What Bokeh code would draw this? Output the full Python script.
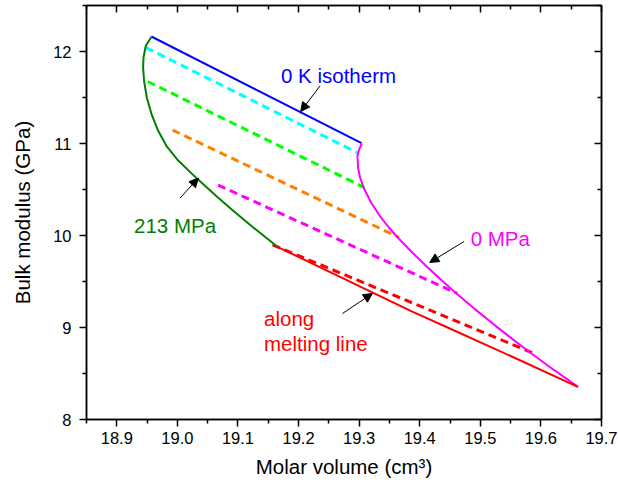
from bokeh.plotting import figure
from bokeh.models import (Range1d, LinearAxis, FixedTicker, Label, Arrow, NormalHead,
                          PrintfTickFormatter, CustomJSTickFormatter)
from bokeh.embed import file_html
from bokeh.resources import INLINE

# ---------------- data ----------------
# 0 K isotherm (solid blue)
iso0K_v = [18.957, 19.304]
iso0K_b = [12.163, 11.004]

# 213 MPa isobar (solid dark green)
p213_v = [18.9573, 18.9479, 18.9441, 18.9434, 18.9450, 18.9495, 18.9573, 18.9683,
          18.9818, 19.0017, 19.0333, 19.0637, 19.0921, 19.1218, 19.1492, 19.1650]
p213_b = [12.160, 12.062, 11.935, 11.826, 11.682, 11.500, 11.320, 11.138,
          10.975, 10.812, 10.613, 10.432, 10.268, 10.105, 9.961, 9.877]

# 0 MPa isobar (solid magenta)
p0_v = [19.3043, 19.2998, 19.2972, 19.2982, 19.3015, 19.3073, 19.3196, 19.3340, 19.3490,
        19.3635, 19.3876, 19.4132, 19.4370, 19.4586, 19.4909, 19.5251, 19.5568,
        19.5822, 19.6158, 19.6614]
p0_b = [11.000, 10.932, 10.866, 10.739, 10.630, 10.522, 10.359, 10.214, 10.087,
        9.978, 9.815, 9.652, 9.508, 9.380, 9.200, 9.018, 8.855,
        8.728, 8.565, 8.355]

# along melting line (solid red)
melt_v = [19.165, 19.253, 19.385, 19.446, 19.550, 19.661]
melt_b = [9.877, 9.600, 9.180, 9.000, 8.690, 8.355]

# isotherms (dashed)
cyan_v = [18.948, 19.297]
cyan_b = [12.043, 10.900]
green_v = [18.951, 19.309]
green_b = [11.674, 10.520]
orange_v = [18.992, 19.366]
orange_b = [11.146, 9.978]
magenta_v = [19.067, 19.462]
magenta_b = [10.548, 9.370]
reddash_v = [19.157, 19.591]
reddash_b = [9.899, 8.711]

# axes ticks
x_ticks = [18.9, 19.0, 19.1, 19.2, 19.3, 19.4, 19.5, 19.6, 19.7]
x_minor = [18.85, 18.95, 19.05, 19.15, 19.25, 19.35, 19.45, 19.55, 19.65]
y_ticks = [8, 9, 10, 11, 12]
y_minor = [8.5, 9.5, 10.5, 11.5, 12.5]

FONT = "Liberation Sans"

p = figure(width=618, height=489, output_backend="svg", toolbar_location=None,
           x_range=Range1d(18.85, 19.7), y_range=Range1d(8, 12.5),
           min_border_left=86, min_border_right=17, min_border_top=5, min_border_bottom=70)
p.grid.visible = False
p.outline_line_color = "black"
p.outline_line_width = 1.5
p.background_fill_color = "white"
p.border_fill_color = "white"

def style_axis(ax, outside=True):
    ax.axis_line_color = "black"
    ax.axis_line_width = 1.5
    ax.major_tick_line_width = 1.5
    ax.minor_tick_line_width = 1.5
    if outside:
        ax.major_tick_out = 7
        ax.major_tick_in = 0
        ax.minor_tick_out = 4
        ax.minor_tick_in = 0
    else:
        ax.major_tick_out = 0
        ax.major_tick_in = 7
        ax.minor_tick_out = 0
        ax.minor_tick_in = 4
    ax.major_label_text_font = FONT
    ax.major_label_text_font_size = "16.5px"
    ax.major_label_text_color = "black"
    ax.axis_label_text_font = FONT
    ax.axis_label_text_font_size = "20.5px"
    ax.axis_label_text_font_style = "normal"
    ax.axis_label_text_color = "black"

p.xaxis.ticker = FixedTicker(ticks=x_ticks, minor_ticks=x_minor)
p.yaxis.ticker = FixedTicker(ticks=y_ticks, minor_ticks=y_minor)
p.xaxis.formatter = PrintfTickFormatter(format="%.1f")
style_axis(p.xaxis[0])
style_axis(p.yaxis[0])
p.xaxis.axis_label = "Molar volume (cm³)"
p.yaxis.axis_label = "Bulk modulus (GPa)"
p.xaxis.major_label_standoff = 5
p.xaxis.axis_label_standoff = 8
p.yaxis.major_label_standoff = 8
p.yaxis.axis_label_standoff = 16

top_ax = LinearAxis(ticker=FixedTicker(ticks=x_ticks, minor_ticks=x_minor),
                    formatter=CustomJSTickFormatter(code="return ''"))
right_ax = LinearAxis(ticker=FixedTicker(ticks=y_ticks, minor_ticks=y_minor),
                      formatter=CustomJSTickFormatter(code="return ''"))
for ax in (top_ax, right_ax):
    style_axis(ax, outside=False)
    ax.major_label_standoff = 0
p.add_layout(top_ax, "above")
p.add_layout(right_ax, "right")

# curves
p.line(iso0K_v, iso0K_b, line_color="#0000FF", line_width=2)
p.line(cyan_v, cyan_b, line_color="#00FFFF", line_width=3, line_dash="8 5")
p.line(green_v, green_b, line_color="#00FF00", line_width=3, line_dash="8 5")
p.line(orange_v, orange_b, line_color="#FF8000", line_width=3, line_dash="8 5")
p.line(magenta_v, magenta_b, line_color="#FF00FF", line_width=3, line_dash="8 5")
p.line(reddash_v, reddash_b, line_color="#FF0000", line_width=3, line_dash="8 5")
p.line(p213_v, p213_b, line_color="#008000", line_width=2)
p.line(p0_v, p0_b, line_color="#FF00FF", line_width=2)
p.line(melt_v, melt_b, line_color="#FF0000", line_width=2)

# annotations
def lab(x, y, t, c):
    p.add_layout(Label(x=x, y=y, text=t, text_color=c, text_font=FONT,
                       text_font_size="20.5px", text_align="left",
                       text_baseline="alphabetic"))

lab(19.171, 11.736, "0 K isotherm", "#0000FF")
lab(18.9285, 10.105, "213 MPa", "#008000")
lab(19.484, 9.972, "0 MPa", "#FF00FF")
lab(19.143, 9.098, "along", "#FF0000")
lab(19.143, 8.826, "melting line", "#FF0000")

def arr(xs, ys, xe, ye):
    p.add_layout(Arrow(end=NormalHead(size=9, fill_color="black", line_color="black"),
                       x_start=xs, y_start=ys, x_end=xe, y_end=ye,
                       line_color="black", line_width=1))

arr(19.2355, 11.627, 19.2036, 11.348)
arr(19.0045, 10.407, 19.0345, 10.624)
arr(19.4731, 9.935, 19.4165, 9.707)
arr(19.2724, 9.152, 19.3219, 9.370)

open("out.html", "w").write(file_html(p, INLINE))
